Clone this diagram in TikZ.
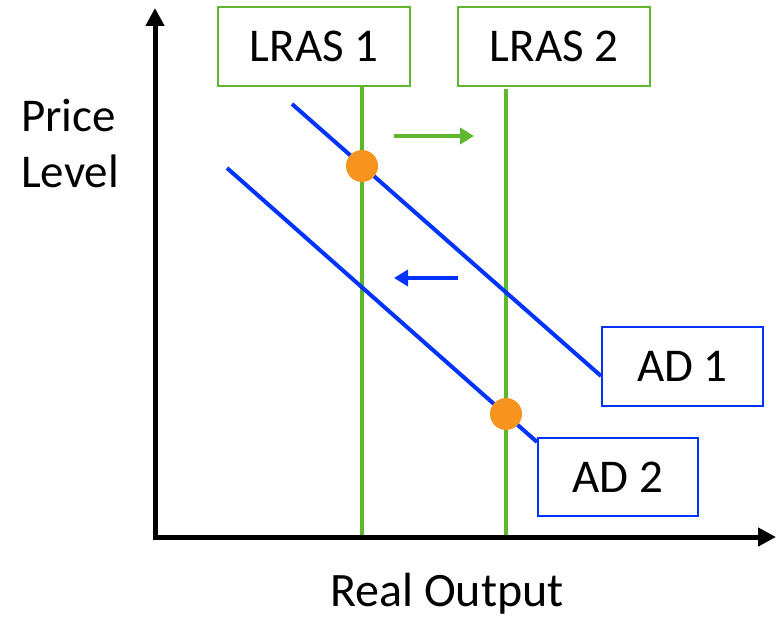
\documentclass[tikz,border=0pt]{standalone}
\usepackage{fontspec}
\setmainfont{Carlito}
\usetikzlibrary{arrows.meta}
\definecolor{lgreen}{RGB}{94,183,44}
\definecolor{lblue}{RGB}{0,51,255}
\definecolor{dotorange}{RGB}{247,148,30}
\tikzset{
  lbl/.style={font=\fontsize{47}{56}\selectfont, inner sep=0pt},
  greenbox/.style={draw=lgreen, line width=2pt, minimum width=192pt, minimum height=79pt, lbl},
  bluebox/.style={draw=lblue, line width=2pt, minimum height=78pt, lbl},
  axis/.style={line width=5pt, -{Triangle[length=18pt,width=18pt]}},
  greenline/.style={draw=lgreen, line width=4pt},
  blueline/.style={draw=lblue, line width=4pt},
  dot/.style={circle, fill=dotorange, minimum size=32pt, inner sep=0pt},
  shiftarrow/.style={line width=4pt, -{Triangle[length=14pt,width=16pt]}}
}
\begin{document}
\begin{tikzpicture}[x=1pt,y=-1pt]
\useasboundingbox (0,0) rectangle (776,617);
% axes
\coordinate (orig) at (155,537);
\coordinate (ytop) at (155,8);
\coordinate (xend) at (776,537);
\coordinate (xstart) at (152.5,537);
% LRAS boxes
\node[greenbox] (lras1) at (314,46.5) {LRAS 1};
\node[greenbox] (lras2) at (554,46.5) {LRAS 2};
\coordinate (l1b) at (362,535);
\coordinate (l2b) at (506,535);
\draw[greenline] (lras1.south -| l1b) -- (l1b);
\draw[greenline] ([yshift=-2pt]lras2.south -| l2b) -- (l2b);
% AD boxes
\node[bluebox, minimum width=161pt] (ad1) at (682.5,366.5) {AD 1};
\node[bluebox, minimum width=160pt] (ad2) at (618,477) {AD 2};
\coordinate (a1s) at (292,104);
\coordinate (a2s) at (227,168);
\draw[blueline] (a1s) -- ([yshift=-9.5pt]ad1.west);
\draw[blueline] (a2s) -- ([yshift=-5pt]ad2.north west);
% axes drawn
\draw[axis] (orig) -- (ytop);
\draw[axis] (xstart) -- (xend);
% dots
\node[dot] (e1) at (362,166) {};
\node[dot] (e2) at (506,414) {};
% shift arrows
\coordinate (ga) at (394,136);
\coordinate (gb) at (474,136);
\draw[shiftarrow, lgreen] (ga) -- (gb);
\coordinate (ba) at (458,278);
\coordinate (bb) at (394,278);
\draw[shiftarrow, lblue] (ba) -- (bb);
% axis labels
\node[lbl, anchor=north west, align=left] (plabel) at (21,99) {Price\\Level};
\node[lbl, font=\fontsize{48}{56}\selectfont, anchor=base] (xlabel) at (447,606) {Real Output};
\end{tikzpicture}
\end{document}
